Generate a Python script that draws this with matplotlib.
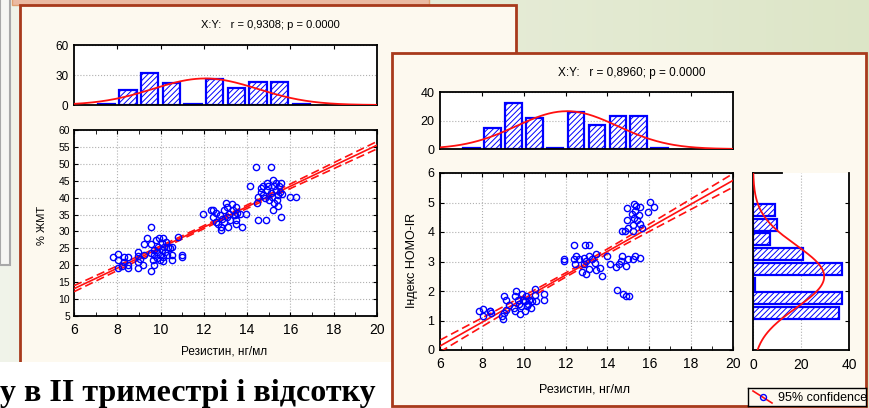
import numpy as np
import matplotlib.pyplot as plt
from matplotlib.patches import Rectangle

plt.rcParams['font.family'] = ['Liberation Sans', 'DejaVu Sans']
plt.rcParams['hatch.linewidth'] = 0.7

W, H = 870, 408

# histogram of resistin (bins of 1 ng/ml)
res_centers = [7.5, 8.5, 9.5, 10.5, 11.5, 12.5, 13.5, 14.5, 15.5, 16.5]
res_counts = [1, 15, 32, 22, 1, 26, 17, 23, 23, 1]

# histogram of HOMA-IR (bins of 0.5), right side panel
homa_centers = [1.25, 1.75, 2.25, 2.75, 3.25, 3.75, 4.25, 4.75]
homa_counts = [36, 37, 1, 37, 21, 7, 10, 9]

# scatter: resistin vs % body fat
fat_x = [7.82, 8.05, 8.05, 8.05, 8.30, 8.30, 8.48, 8.48, 8.48, 8.20,
         8.94, 8.94, 8.94, 8.94, 9.05, 9.17, 9.23, 9.23, 9.35, 9.54,
         9.58, 9.58, 9.58, 9.63, 9.69, 9.69, 9.78, 9.82, 9.82, 9.89,
         9.94, 9.97, 9.97, 10.05, 10.05, 10.09, 10.12, 10.12, 10.15, 10.20,
         10.23, 10.28, 10.35, 10.43, 10.54, 10.54, 10.54, 10.82, 10.97, 10.97,
         9.69,
         11.94, 12.32, 12.43, 12.43, 12.55, 12.55, 12.66, 12.74, 12.77, 12.78,
         12.82, 12.92, 12.92, 13.02, 13.05, 13.05, 13.12, 13.17, 13.20, 13.32,
         13.35, 13.43, 13.48, 13.50, 13.50, 13.55, 13.66, 13.74, 13.97,
         14.15, 14.43, 14.51, 14.51, 14.46, 14.66, 14.66, 14.74, 14.74, 14.82,
         14.86, 14.92, 14.92, 14.97, 15.02, 15.08, 15.12, 15.17, 15.20, 15.20,
         15.23, 15.23, 15.32, 15.35, 15.38, 15.43, 15.48, 15.43, 15.54, 15.58,
         15.58, 15.63, 15.97, 16.25]
fat_y = [22.4, 23.3, 21.6, 19.1, 22.4, 21.1, 22.4, 19.1, 20.1, 19.9,
         24.0, 22.6, 21.1, 19.1, 21.8, 20.1, 23.1, 26.3, 28.2, 23.5,
         31.2, 26.3, 18.4, 21.6, 23.1, 20.1, 27.5, 24.0, 22.1, 25.5,
         28.0, 23.1, 21.6, 26.5, 24.5, 28.0, 22.4, 21.4, 25.5, 24.0,
         27.0, 23.1, 25.5, 25.0, 25.5, 23.1, 21.6, 28.3, 23.1, 22.3,
         24.5,
         35.2, 36.2, 36.2, 34.4, 35.4, 32.9, 32.2, 34.9, 30.4, 31.4,
         33.6, 36.2, 32.9, 38.3, 37.1, 34.4, 31.2, 35.2, 33.4, 38.1,
         36.2, 34.9, 37.1, 33.4, 32.2, 35.6, 35.2, 31.2, 35.2,
         43.3, 49.0, 33.4, 40.1, 38.3, 42.8, 41.8, 43.5, 40.8, 39.8,
         33.4, 44.3, 42.3, 43.3, 39.3, 49.0, 41.5, 40.1, 45.1, 36.4,
         43.3, 38.3, 42.3, 44.3, 39.3, 40.8, 43.3, 37.5, 41.8, 34.4,
         44.3, 41.1, 40.1, 40.1]

# scatter: resistin vs HOMA-IR
homa_x = [7.86, 8.06, 8.06, 8.37, 8.46, 8.41,
          8.97, 9.00, 9.05, 9.05, 9.13, 9.16, 9.29, 9.52, 9.57, 9.63,
          9.60, 9.73, 9.76, 9.84, 9.89, 9.92, 9.97, 10.05, 10.08, 10.11,
          10.16, 10.21, 10.27, 10.37, 10.40, 10.52, 10.56, 10.59, 10.95, 10.95,
          11.94, 11.94, 12.38, 12.38, 12.46, 12.49, 12.65, 12.78, 12.86, 12.86,
          12.94, 12.97, 12.98, 13.10, 13.10, 13.13, 13.25, 13.41, 13.44, 13.44,
          13.65, 13.76, 13.97,
          14.13, 14.41, 14.44, 14.57, 14.65, 14.68, 14.71, 14.73, 14.84, 14.87,
          14.87, 14.92, 14.95, 14.97, 14.97, 15.05, 15.19, 15.21, 15.24, 15.24,
          15.27, 15.29, 15.32, 15.35, 15.40, 15.32, 15.51, 15.56, 15.56, 15.56,
          15.63, 15.92, 16.03, 16.24]
homa_y = [1.33, 1.39, 1.16, 1.31, 1.25, 1.33,
          1.14, 1.05, 1.25, 1.82, 1.70, 1.36, 1.51, 1.42, 1.82, 2.01,
          1.31, 1.70, 1.56, 1.23, 1.48, 1.91, 1.70, 1.65, 1.31, 1.82,
          1.48, 1.57, 1.70, 1.42, 1.65, 1.88, 2.07, 1.65, 1.91, 1.70,
          3.09, 3.01, 3.55, 3.09, 2.90, 3.20, 3.07, 2.64, 3.13, 2.90,
          3.55, 2.56, 3.01, 3.55, 3.20, 2.75, 3.07, 2.95, 3.24, 2.70,
          2.78, 2.50, 3.20,
          2.90, 2.82, 2.02, 2.93, 3.01, 4.03, 3.20, 1.91, 4.03, 2.86,
          1.82, 4.83, 4.40, 4.15, 3.09, 1.82, 4.60, 4.23, 3.09, 4.03,
          4.94, 4.49, 4.72, 4.89, 4.41, 3.18, 4.57, 4.26, 4.85, 3.13,
          4.15, 4.68, 5.02, 4.85]

# 95% confidence band half-widths: (at mean x, at x = 20)
fat_ci = (0.45, 1.1)
homa_ci = (0.07, 0.23)

BLUE = '#0000ff'
RED = '#ff1010'
FRAME = '#a83a1c'
CREAM = '#fdf9ef'


def px_axes(x0, y0, x1, y1):
    return fig.add_axes([x0 / W, 1 - y1 / H, (x1 - x0) / W, (y1 - y0) / H])


def fit_band(x, y, xs, ci):
    x = np.asarray(x)
    b, a = np.polyfit(x, y, 1)
    m = x.mean()
    h0, h20 = ci
    k = np.sqrt(h20 ** 2 - h0 ** 2) / (20 - m)
    half = np.sqrt(h0 ** 2 + (k * (xs - m)) ** 2)
    yhat = a + b * xs
    return yhat, yhat - half, yhat + half


def normal_curve(centers, counts, width, grid):
    c = np.asarray(centers, float)
    k = np.asarray(counts, float)
    n = k.sum()
    m = (c * k).sum() / n
    sd = np.sqrt(((c - m) ** 2 * k).sum() / n)
    return n * width / (sd * np.sqrt(2 * np.pi)) * np.exp(-0.5 * ((grid - m) / sd) ** 2)


def style(ax):
    for sp in ax.spines.values():
        sp.set_linewidth(1.3)
    ax.set_facecolor('white')
    ax.grid(True, color='#b0b0b0', linestyle=':', linewidth=0.8)
    ax.set_axisbelow(True)


fig = plt.figure(figsize=(W / 100, H / 100), dpi=100)

# ---- backdrop: slide background and the two Statistica windows ----
bg = fig.add_axes([0, 0, 1, 1])
bg.set_xlim(0, W)
bg.set_ylim(H, 0)
bg.axis('off')
t = np.linspace(0, 1, 200)
left_c = np.array([0.945, 0.955, 0.915])
right_c = np.array([0.865, 0.900, 0.780])
grad = (left_c[None, :] * (1 - t[:, None]) + right_c[None, :] * t[:, None])[None, :, :]
bg.imshow(grad, extent=[0, W, H, 0], aspect='auto', zorder=0)
bg.add_patch(Rectangle((0, -2), 10, 267, facecolor='#f6f6f3', edgecolor='#a8a8a8', lw=1.5, zorder=1))
bg.add_patch(Rectangle((12, -2), 417, 7, facecolor='#ebbaa2', edgecolor='#e0a070', lw=1, zorder=1))
bg.add_patch(Rectangle((20, 5), 496, 380, facecolor=CREAM, edgecolor=FRAME, lw=2, zorder=2))
bg.add_patch(Rectangle((-2, 362), 394, 50, facecolor='white', edgecolor='none', zorder=3))
bg.text(0, 401, 'у в ІІ триместрі і відсотку', fontsize=23, fontweight='bold',
        family=['Liberation Serif', 'DejaVu Serif'], va='baseline', ha='left', zorder=4)
bg.add_patch(Rectangle((392, 53), 474, 353, facecolor=CREAM, edgecolor=FRAME, lw=2, zorder=5))

xs = np.linspace(6, 20, 200)

# ---- left window: resistin vs % body fat ----
fig.text(270 / W, 1 - 25 / H, 'X:Y:   r = 0,9308; p = 0.0000', ha='center', va='center', fontsize=8)

ax = px_axes(74, 45, 377, 105)
style(ax)
ax.bar(res_centers, res_counts, width=0.8, facecolor='white', edgecolor=BLUE, hatch='//////', lw=1.6, zorder=2)
ax.plot(xs, normal_curve(res_centers, res_counts, 1.0, xs), color=RED, lw=1.3, zorder=3)
ax.set_xlim(6, 20)
ax.set_ylim(0, 60)
ax.set_yticks([0, 30, 60])
ax.set_xticks(np.arange(8, 20, 2))
ax.grid(False, axis='x')
ax.tick_params(axis='x', top=True, bottom=False, labelbottom=False, direction='in', length=3)
ax.tick_params(axis='y', direction='in', length=0, labelsize=8.5, pad=4)

ax = px_axes(74, 130, 377, 316)
style(ax)
fit, lo, hi = fit_band(fat_x, fat_y, xs, fat_ci)
ax.plot(xs, fit, color=RED, lw=1.2, zorder=3)
ax.plot(xs, lo, color=RED, lw=1.2, dashes=(5, 2.5), zorder=3)
ax.plot(xs, hi, color=RED, lw=1.2, dashes=(5, 2.5), zorder=3)
ax.plot(fat_x, fat_y, 'o', ms=4.5, mfc='none', mec=BLUE, mew=1.0, zorder=4)
ax.set_xlim(6, 20)
ax.set_ylim(5, 60)
ax.set_xticks(np.arange(6, 21, 2))
ax.set_xticks(np.arange(6, 21, 1), minor=True)
ax.set_yticks(np.arange(5, 61, 5))
ax.tick_params(which='both', direction='in', top=True, right=True, length=3)
ax.tick_params(axis='x', labelsize=10, pad=5)
ax.tick_params(axis='y', labelsize=7.5, pad=3)
fig.text(42 / W, 1 - 225 / H, '% ЖМТ', rotation=90, ha='center', va='center', fontsize=8)
fig.text(224 / W, 1 - 351 / H, 'Резистин, нг/мл', ha='center', va='center', fontsize=8.5)

# ---- right window: resistin vs HOMA-IR ----
fig.text(632 / W, 1 - 73 / H, 'X:Y:   r = 0,8960; p = 0.0000', ha='center', va='center', fontsize=8.5)

ax = px_axes(440, 92, 733, 149)
style(ax)
ax.bar(res_centers, res_counts, width=0.8, facecolor='white', edgecolor=BLUE, hatch='//////', lw=1.6, zorder=2)
ax.plot(xs, normal_curve(res_centers, res_counts, 1.0, xs), color=RED, lw=1.3, zorder=3)
ax.set_xlim(6, 20)
ax.set_ylim(0, 40)
ax.set_yticks([0, 20, 40])
ax.set_xticks(np.arange(8, 20, 2))
ax.grid(False, axis='x')
ax.tick_params(axis='x', top=True, bottom=False, labelbottom=False, direction='in', length=3)
ax.tick_params(axis='y', direction='in', length=0, labelsize=9, pad=4)

ax = px_axes(440, 173, 733, 350)
style(ax)
fit, lo, hi = fit_band(homa_x, homa_y, xs, homa_ci)
ax.plot(xs, fit, color=RED, lw=1.2, zorder=3)
ax.plot(xs, lo, color=RED, lw=1.2, dashes=(5, 2.5), zorder=3)
ax.plot(xs, hi, color=RED, lw=1.2, dashes=(5, 2.5), zorder=3)
ax.plot(homa_x, homa_y, 'o', ms=4.5, mfc='none', mec=BLUE, mew=1.0, zorder=4)
ax.set_xlim(6, 20)
ax.set_ylim(0, 6)
ax.set_xticks(np.arange(6, 21, 2))
ax.set_xticks(np.arange(6, 21, 1), minor=True)
ax.set_yticks(np.arange(0, 7, 1))
ax.tick_params(which='both', direction='in', top=True, right=True, length=3)
ax.tick_params(axis='x', labelsize=10, pad=5)
ax.tick_params(axis='y', labelsize=9, pad=4)
fig.text(412 / W, 1 - 260 / H, 'Індекс HOMO-IR', rotation=90, ha='center', va='center', fontsize=9)
fig.text(585 / W, 1 - 389 / H, 'Резистин, нг/мл', ha='center', va='center', fontsize=9)

ax = px_axes(753, 173, 849, 350)
style(ax)
ys = np.linspace(0, 6, 200)
ax.barh(homa_centers, homa_counts, height=0.4, facecolor='white', edgecolor=BLUE, hatch='//////', lw=1.6, zorder=2)
ax.plot(normal_curve(homa_centers, homa_counts, 0.5, ys), ys, color=RED, lw=1.3, zorder=3)
ax.set_xlim(0, 40)
ax.set_ylim(0, 6)
ax.set_xticks([0, 20, 40])
ax.set_yticks(np.arange(1, 6, 1))
ax.grid(False, axis='y')
ax.spines['top'].set_bounds(0, 12)
ax.tick_params(axis='y', left=False, right=True, labelleft=False, direction='in', length=3)
ax.tick_params(axis='x', direction='in', length=0, labelsize=10, pad=6)

# legend box
lg = px_axes(748, 388, 866, 406)
lg.set_xlim(748, 866)
lg.set_ylim(406, 388)
lg.set_facecolor(CREAM)
for sp in lg.spines.values():
    sp.set_linewidth(1.0)
lg.set_xticks([])
lg.set_yticks([])
lg.plot([753, 772], [391, 403], color=RED, lw=1.2)
lg.plot([763], [397], 'o', ms=4.3, mfc='none', mec=BLUE, mew=1.0)
lg.text(778, 397.5, '95% confidence', ha='left', va='center', fontsize=9)

fig.savefig('out.png', dpi=100)
